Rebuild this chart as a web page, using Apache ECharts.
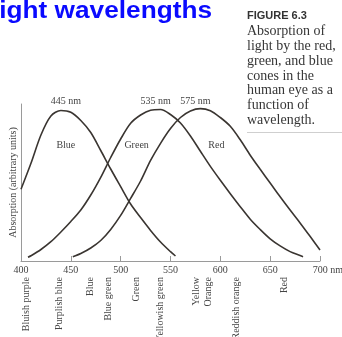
<!DOCTYPE html>
<html><head><meta charset="utf-8">
<script src="https://cdn.jsdelivr.net/npm/echarts@6/dist/echarts.min.js"></script>
<style>html,body{margin:0;padding:0;background:#fff}#c{width:342px;height:337px}</style>
</head><body><div id="c"></div>
<script>
// Wavelength (nm) and absorption (arbitrary units)
var blueCone = [[400,71.7],[410,97.7],[420,126],[430,145],[440,150.5],[450,148.7],[460,140.5],[470,128.5],[480,110.5],[490,92],[500,74.4],[510,57],[520,43.4],[530,30.6],[540,19],[550,9.3],[555,5]];
var greenCone = [[407,3.7],[410,5.2],[420,11.5],[430,19.3],[440,29],[450,39.5],[460,51],[470,66],[480,83.7],[490,103.5],[500,122],[510,137.7],[520,146],[530,150.8],[540,151.5],[550,146.5],[560,138],[570,125],[580,109.7],[590,94.6],[600,80.7],[610,67.3],[620,54.3],[630,41.8],[640,31.5],[650,22.2],[660,15.1],[670,9.4],[680,5.5],[683,4.3]];
var redCone = [[452,4.3],[460,7.5],[470,13],[480,20.5],[490,31.6],[500,45.6],[510,62.6],[520,80],[530,100.6],[540,117.7],[550,132.5],[560,143.5],[570,150],[580,152.4],[590,150.3],[600,143.5],[610,134.7],[620,121.2],[630,105.8],[640,91.7],[650,78],[660,64.2],[670,50.9],[680,38.1],[690,24.7],[700,11]];
var peakLabels = ['445 nm','535 nm','575 nm'];
var peakWavelengths = [445, 535, 575];
var coneNames = ['Blue','Green','Red'];
var coneNameWavelengths = [445, 516, 596];
var colorNames = ['Bluish purple','Purplish blue','Blue','Blue green','Green','Yellowish green','Yellow','Orange','Reddish orange','Red'];
var colorWavelengths = [405, 439, 470, 488, 516, 540, 576, 588, 616, 664];
var titleText = 'light wavelengths';
var figureLabel = 'FIGURE 6.3';
var captionLines = ['Absorption of','light by the red,','green, and blue','cones in the','human eye as a','function of','wavelength.'];
var yAxisName = 'Absorption (arbitrary units)';

var SERIF = '"Liberation Serif","DejaVu Serif",serif';
var INK = '#3a3531';
var chart = echarts.init(document.getElementById('c'));
function lineSeries(d){
  return {type:'line', data:d, smooth:0.3, showSymbol:false, silent:true,
    lineStyle:{color:INK, width:1.6}};
}
chart.setOption({
  animation:false,
  grid:{left:21, top:104, width:299, height:157, containLabel:false, outerBoundsMode:'none'},
  xAxis:{type:'value', min:400, max:700, interval:50,
    axisLine:{lineStyle:{color:'#9a9a9a', width:1}},
    axisTick:{inside:true, length:5, lineStyle:{color:'#9a9a9a'}},
    splitLine:{show:false},
    axisLabel:{margin:4, color:'#444', fontFamily:SERIF, fontSize:10,
      formatter:function(v){ return v===700 ? '{p|700 nm}' : String(v); },
      rich:{p:{padding:[0,0,0,16], color:'#444', fontFamily:SERIF, fontSize:10}}}
  },
  yAxis:{type:'value', min:0, max:157,
    name:yAxisName, nameLocation:'middle', nameGap:3,
    nameTextStyle:{color:'#444', fontFamily:SERIF, fontSize:10},
    axisLine:{show:true, lineStyle:{color:'#9a9a9a', width:1}},
    axisTick:{show:false}, axisLabel:{show:false}, splitLine:{show:false}},
  series:[lineSeries(blueCone), lineSeries(greenCone), lineSeries(redCone)]
});

var g = [];
g.push({type:'text', x:-8, y:12, scaleX:1.14, style:{text:titleText, fill:'#0a0aff',
  font:'bold 23px "Liberation Sans",Arial,sans-serif', textAlign:'left', textVerticalAlign:'middle'}});
g.push({type:'text', x:247, y:15.5, style:{text:figureLabel, fill:'#333',
  font:'bold 11px "Liberation Sans",Arial,sans-serif', textAlign:'left', textVerticalAlign:'middle'}});
captionLines.forEach(function(t,i){
  g.push({type:'text', x:247, y:31.5+i*14.8, style:{text:t, fill:'#363636',
    font:'14px '+SERIF, textAlign:'left', textVerticalAlign:'middle'}});
});
g.push({type:'line', shape:{x1:247, y1:132.5, x2:342, y2:132.5}, style:{stroke:'#cfcfcf', lineWidth:1}});
peakLabels.forEach(function(t,i){
  var px = chart.convertToPixel({xAxisIndex:0}, peakWavelengths[i]);
  g.push({type:'text', x:px, y:101, style:{text:t, fill:'#444', font:'10px '+SERIF,
    textAlign:'center', textVerticalAlign:'middle'}});
});
coneNames.forEach(function(t,i){
  var px = chart.convertToPixel({xAxisIndex:0}, coneNameWavelengths[i]);
  g.push({type:'text', x:px, y:145, style:{text:t, fill:'#444', font:'10px '+SERIF,
    textAlign:'center', textVerticalAlign:'middle'}});
});
colorNames.forEach(function(t,i){
  var px = chart.convertToPixel({xAxisIndex:0}, colorWavelengths[i]);
  g.push({type:'text', x:px, y:277, rotation:Math.PI/2, style:{text:t, fill:'#444', font:'10px '+SERIF,
    textAlign:'right', textVerticalAlign:'middle'}});
});
chart.setOption({graphic:g});
</script></body></html>
